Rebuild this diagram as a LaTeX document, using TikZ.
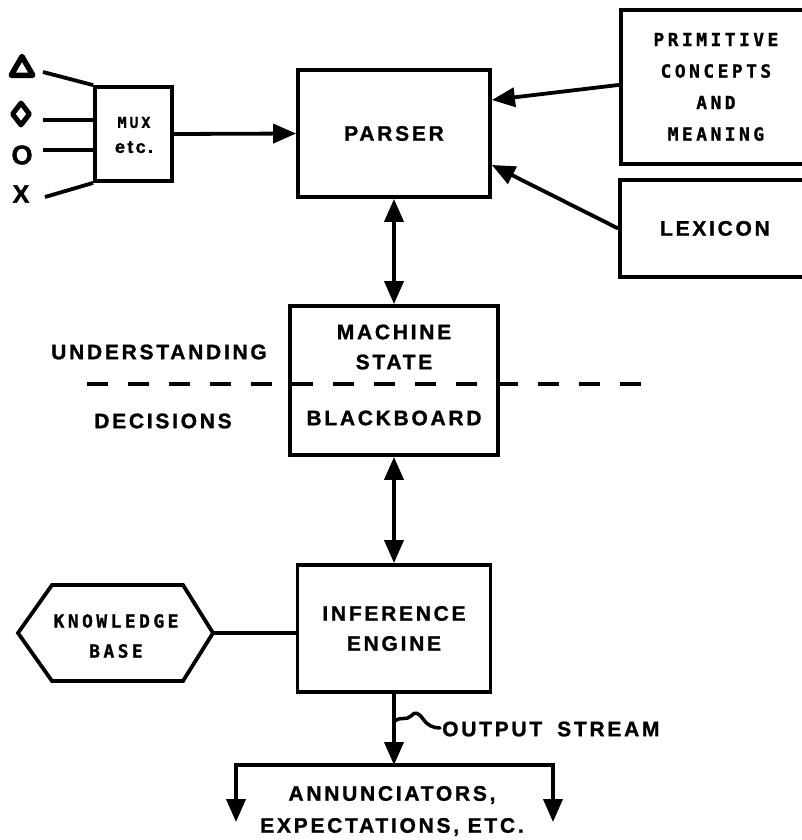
\documentclass[tikz,border=0pt]{standalone}
\usepackage{fontspec}
\setmainfont{Liberation Sans}
\newfontfamily\lblfont{Liberation Sans}[LetterSpace=13, BoldFeatures={FakeBold=1.2}]
\newfontfamily\tagfont{DejaVu Sans Mono}[LetterSpace=19, BoldFeatures={FakeBold=1}]
\newfontfamily\symfont{Liberation Sans}[BoldFeatures={FakeBold=1.5}]
\usetikzlibrary{arrows.meta,shapes.geometric}

\tikzset{
  box/.style={draw, line width=3.8bp, inner sep=0pt},
  wire/.style={line width=3.8bp},
  arr/.style={wire, -{Triangle[length=23bp,width=19bp]}},
  dblarr/.style={wire, {Triangle[length=23bp,width=19bp]}-{Triangle[length=23bp,width=19bp]}},
  lbl/.style={inner sep=0pt, align=center, font=\lblfont\bfseries\fontsize{21bp}{30bp}\selectfont},
  tag/.style={inner sep=0pt, align=center, font=\tagfont\bfseries\fontsize{18bp}{31.5bp}\selectfont},
  sym/.style={inner sep=0pt, font=\symfont\bfseries\fontsize{27bp}{30bp}\selectfont},
  dashline/.style={line width=4.5bp, dash pattern=on 21bp off 20bp}
}

\begin{document}
\begin{tikzpicture}[x=1bp, y=-1bp]
\useasboundingbox (0,0) rectangle (802,840);
\clip (0,0) rectangle (802,840);

% input symbols
\node[draw, regular polygon, regular polygon sides=3, line width=5.5bp, minimum size=25bp, inner sep=0pt, line join=round] (inA) at (22,69) {};
\node[draw, diamond, line width=5bp, minimum width=19bp, minimum height=24bp, inner sep=0pt, line join=round] (inD) at (21,114) {};
\node[sym] (inO) at (22,155) {O};
\node[sym, font=\symfont\bfseries\fontsize{25bp}{30bp}\selectfont] (inX) at (21,194) {X};

% multiplexer
\node[box, minimum width=77bp, minimum height=94bp] (mux) at (133.5,134) {};
\node[inner sep=0pt, align=center, font=\lblfont\bfseries\fontsize{18bp}{25bp}\selectfont] (muxtxt) at (134,135)
  {{\tagfont\bfseries\fontsize{15bp}{25bp}\selectfont MUX}\\etc.};

\coordinate (lA) at (43,72);
\coordinate (lD) at (43,120);
\coordinate (lO) at (43,150);
\coordinate (lX) at (45,197);
\draw[wire] (lA) -- (mux.north west);
\draw[wire] (lD) -- (lD -| mux.west);
\draw[wire] (lO) -- (lO -| mux.west);
\draw[wire] (lX) -- (mux.south west);

% parser and its sources
\node[box, lbl, minimum width=192bp, minimum height=127bp] (parser) at (394,133.5) {PARSER};
\node[box, tag, anchor=north west, minimum width=190bp, minimum height=154bp] (prim) at (619,8)
  {PRIMITIVE\\CONCEPTS\\AND\\MEANING};
\node[box, lbl, anchor=north west, minimum width=190bp, minimum height=97bp] (lex) at (618,178) {LEXICON};

\draw[arr] (mux.east) -- (parser.west);
\draw[arr] ([yshift=2bp]prim.west) -- ([yshift=33.5bp]parser.east);
\draw[arr] (lex.west) -- ([yshift=-31.5bp]parser.east);

% machine state / blackboard
\node[box, minimum width=208bp, minimum height=149bp] (ms) at (394,380.5) {};
\node[lbl] (mstxt) at (394,347) {MACHINE\\STATE};
\node[lbl] (bbtxt) at (394,418) {BLACKBOARD};
\node[lbl] (undtxt) at (159,352) {UNDERSTANDING};
\node[lbl] (dectxt) at (163,421) {DECISIONS};
\coordinate (dashL) at (87,384);
\coordinate (dashR) at (645,384);
\draw[dashline] (dashL) -- (dashR);

\draw[dblarr] (parser.south) -- (ms.north);

% inference engine and knowledge base
\node[box, lbl, minimum width=193bp, minimum height=127bp] (ie) at (394,628.5) {INFERENCE\\ENGINE};
\draw[dblarr] (ms.south) -- (ie.north);

\node[tag, font=\tagfont\bfseries\fontsize{18bp}{30bp}\selectfont] (kb) at (116,636) {KNOWLEDGE\\BASE};
\draw[wire, line join=miter] (18,633) -- (52,585) -- (183,585) -- (213,633) -- (183,681) -- (52,681) -- cycle;
\coordinate (kbtip) at (213,633);
\draw[wire] (kbtip) -- (kbtip -| ie.west);

% output stream and its branches
\coordinate (split) at (394,765);
\coordinate (brL) at (236,765);
\coordinate (brR) at (553,765);
\coordinate (outL) at (236,822);
\coordinate (outR) at (553,822);
\draw[arr] (ie.south) -- (split);
\draw[wire, line cap=rect] (brL) -- (brR);
\draw[arr] (brL) -- (outL);
\draw[arr] (brR) -- (outR);

\node[lbl, anchor=west] (outtxt) at (442,729) {OUTPUT\hspace{15bp}STREAM};
\coordinate (sqA) at (395,721);
\coordinate (sqB) at (440,728);
\draw[line width=3.5bp, line cap=round] (sqA) .. controls (401,716) and (406,721) .. (411,716)
  .. controls (415,711) and (419,713) .. (423,719)
  .. controls (427,725) and (433,728) .. (sqB);

\node[lbl, font=\lblfont\bfseries\fontsize{21bp}{32bp}\selectfont] (ann) at (392,811) {ANNUNCIATORS,\\EXPECTATIONS, ETC.};
\end{tikzpicture}
\end{document}
